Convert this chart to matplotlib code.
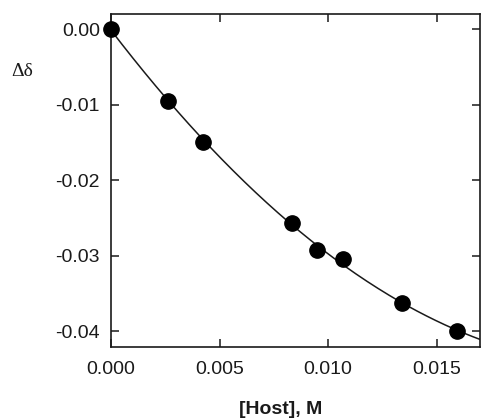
import numpy as np
import matplotlib
matplotlib.use("Agg")
import matplotlib.pyplot as plt

# titration data
host_conc = [0.0, 0.00264, 0.00426, 0.00835, 0.0095, 0.01069, 0.0134, 0.01596]
delta_shift = [0.0, -0.0095, -0.0150, -0.0257, -0.0293, -0.0305, -0.0363, -0.0400]
x_ticks = [0.000, 0.005, 0.010, 0.015]
y_ticks = [0.00, -0.01, -0.02, -0.03, -0.04]

plt.rcParams['font.family'] = ['Liberation Sans', 'DejaVu Sans']

fig = plt.figure(figsize=(4.82, 4.20), dpi=100)
ax = fig.add_axes([0.2303, 0.1738, 0.9959 - 0.2303, 0.9667 - 0.1738])

# smooth fitted curve through the points
coef = np.polyfit(host_conc, delta_shift, 2)
xs = np.linspace(0, 0.017, 200)
ax.plot(xs, np.polyval(coef, xs), color='#1a1a1a', lw=1.1)
ax.plot(host_conc, delta_shift, 'o', color='black', ms=11, clip_on=False, zorder=3)

ax.set_xlim(0, 0.017)
ax.set_ylim(-0.0421, 0.0020)
ax.set_xticks(x_ticks)
ax.set_xticklabels(['%.3f' % v for v in x_ticks])
ax.set_yticks(y_ticks)
ax.set_yticklabels(['%.2f' % v for v in y_ticks])
ax.tick_params(direction='in', length=6, width=1.1, top=True, right=True,
               labelsize=14, colors='#1a1a1a')
ax.tick_params(axis='x', pad=10)
ax.tick_params(axis='y', pad=8)
for s in ax.spines.values():
    s.set_linewidth(1.2)
    s.set_color('#1a1a1a')

fig.text(281 / 482, 1 - 409 / 420, '[Host], M', ha='center', va='center',
         fontsize=14, fontweight='bold', color='#1a1a1a')
fig.text(22.5 / 482, 1 - 71 / 420, 'Δδ', ha='center', va='center',
         fontsize=14, family=['Liberation Serif', 'DejaVu Serif'], color='#1a1a1a')

fig.savefig('out.png', dpi=100)
